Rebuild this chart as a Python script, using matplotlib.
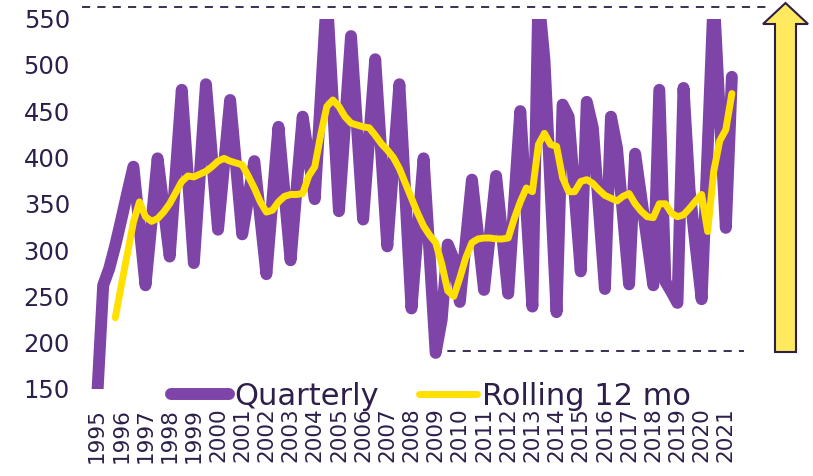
import numpy as np
import matplotlib
matplotlib.use("Agg")
import matplotlib.pyplot as plt
from matplotlib.patches import Polygon

# quarterly series, 1995 Q1 .. 2021 Q2
quarterly = [140, 262, 280, 305, 333, 362, 390, 326, 262, 330,
             399, 346, 293, 383, 473, 380, 286, 382, 479, 400,
             322, 392, 462, 390, 317, 356, 396, 335, 274, 354,
             433, 361, 289, 367, 444, 400, 355, 465, 575, 458,
             342, 436, 531, 432, 333, 420, 506, 405, 304, 392,
             479, 358, 237, 318, 399, 295, 189, 225, 306, 290,
             244, 310, 376, 317, 257, 318, 380, 317, 253, 352,
             450, 345, 239, 575, 505, 368, 233, 457, 444, 360,
             277, 460, 432, 345, 258, 444, 410, 337, 263, 404,
             357, 310, 262, 473, 266, 255, 243, 475, 365, 305,
             247, 410, 575, 447, 324, 487]

# rolling 12 month figure, starts at the 4th quarter
rolling = [np.nan, np.nan, np.nan,
           227, 262, 296, 330, 352, 336, 331, 334, 341, 350,
           362, 374, 380, 379, 382, 385, 390, 396, 399, 396,
           394, 392, 380, 367, 352, 341, 343, 352, 358, 360,
           360, 361, 380, 390, 425, 455, 462, 455, 444, 437,
           435, 433, 432, 424, 415, 408, 400, 388, 372, 356,
           340, 326, 316, 308, 285, 256, 250, 270, 292, 308,
           312, 313, 313, 312, 312, 313, 334, 352, 367, 363,
           414, 426, 414, 412, 378, 363, 363, 374, 376, 372,
           365, 359, 356, 353, 358, 361, 350, 342, 336, 335,
           350, 350, 340, 336, 338, 345, 353, 360, 320, 385,
           418, 430, 469]

years = list(range(1995, 2022))

purple = "#7f44a8"
yellow = "#ffe000"
ink = "#2d1f4a"

W, H = 813, 476
fig = plt.figure(figsize=(W / 100, H / 100), dpi=100)
ax = fig.add_axes([79 / W, (H - 389) / H, 671 / W, 370.5 / H])

x = np.arange(len(quarterly))
ax.plot(x, quarterly, color=purple, lw=8.6, solid_capstyle="round",
        solid_joinstyle="round", label="Quarterly", zorder=2)
ax.plot(np.arange(len(rolling)), rolling, color=yellow, lw=5,
        solid_capstyle="round", solid_joinstyle="round",
        label="Rolling 12 mo", zorder=3)

ax.set_xlim(-3, 108)
ax.set_ylim(150, 550)
ax.set_yticks(range(150, 551, 50))
ax.set_xticks(range(0, len(quarterly), 4))
ax.set_xticklabels([str(y) for y in years], rotation=90, va="top", ha="center")
ax.tick_params(axis="y", length=0, pad=6.5, labelsize=17.5, labelcolor=ink)
ax.tick_params(axis="x", length=0, pad=13.5, labelsize=15.5, labelcolor=ink)
for s in ax.spines.values():
    s.set_visible(False)

# reference lines (peak and trough)
ax.plot([-2.5, 111], [562, 562], ls=(0, (4.5, 4)), color=ink, lw=1.3,
        clip_on=False, zorder=1)
ax.plot([55.4, 107], [191, 191], ls=(0, (4.5, 4)), color=ink, lw=1.3,
        clip_on=False, zorder=1)

leg = ax.legend(loc="center", bbox_to_anchor=(0.525, -0.02), ncol=2,
                frameon=False, fontsize=22, handlelength=1.9,
                handletextpad=0.17, columnspacing=1.3, borderpad=0)
for t in leg.get_texts():
    t.set_color(ink)
for h in leg.get_lines():
    h.set_solid_capstyle("round")

# big up arrow on the right
pts = [(775, 352), (796, 352), (796, 24), (808, 24), (785.5, 3),
       (763, 24), (775, 24)]
arrow = Polygon([(px / W, 1 - py / H) for px, py in pts], closed=True,
                transform=fig.transFigure, facecolor="#ffe95e",
                edgecolor=ink, lw=1.5)
fig.patches.append(arrow)

fig.savefig("out.png", dpi=100)
